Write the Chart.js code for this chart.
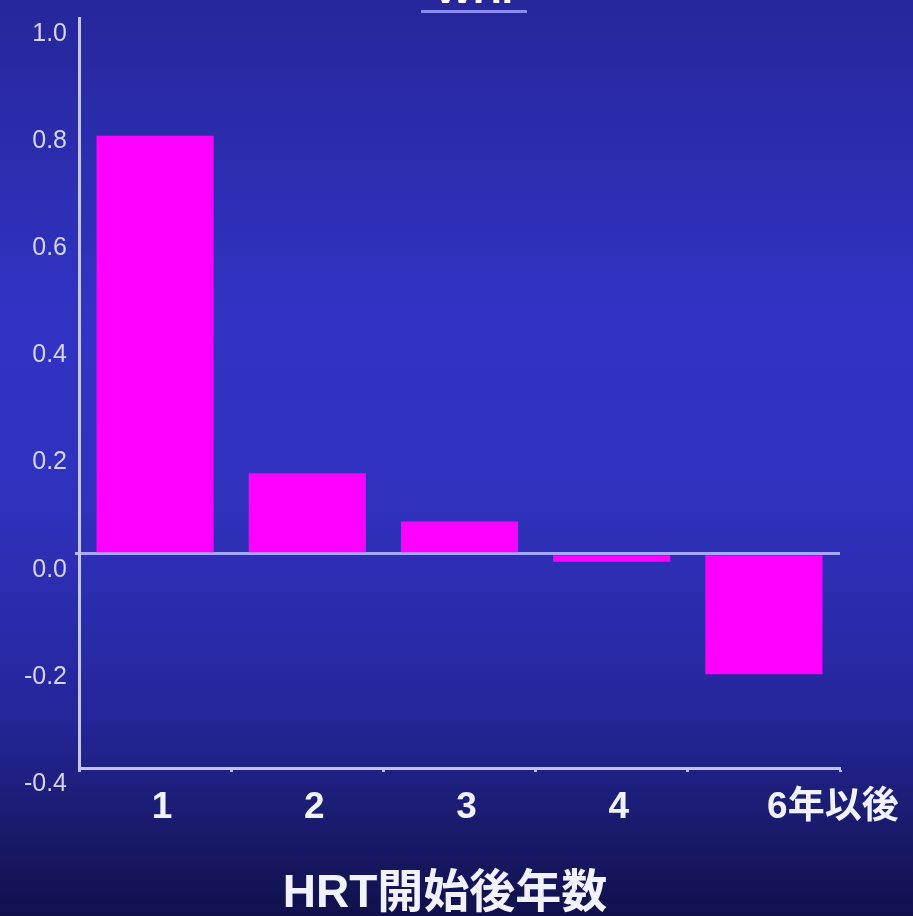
<!DOCTYPE html>
<html>
<head>
<meta charset="utf-8">
<style>
  html, body { margin: 0; padding: 0; background: #2a2aa8; }
  #wrap { width: 913px; height: 916px; position: relative; }
</style>
<script src="https://cdn.jsdelivr.net/npm/chart.js@4/dist/chart.umd.min.js"></script>
</head>
<body>
<div id="wrap"><canvas id="c" width="913" height="916"></canvas></div>
<script>
// Years since start of HRT and the plotted effect for each period
const categories = ['1', '2', '3', '4', '6年以後'];
const values = [0.78, 0.15, 0.06, -0.015, -0.225];
const yTicks = [-0.4, -0.2, 0.0, 0.2, 0.4, 0.6, 0.8, 1.0];
const xTitle = 'HRT開始後年数';
const chartTitle = 'WHI';

const LATIN = '"Liberation Sans", Arial, "Noto Sans CJK JP", sans-serif';

// Slide background: blue vertical gradient, brightest in the middle
const backdrop = {
  id: 'backdrop',
  beforeDraw(chart) {
    const { ctx, width, height } = chart;
    const g = ctx.createLinearGradient(0, 0, 0, height);
    g.addColorStop(0.00, '#26279a');
    g.addColorStop(0.35, '#3233c4');
    g.addColorStop(0.55, '#3031bd');
    g.addColorStop(0.78, '#25269a');
    g.addColorStop(0.92, '#181966');
    g.addColorStop(1.00, '#10104c');
    ctx.save();
    ctx.fillStyle = g;
    ctx.fillRect(0, 0, width, height);
    ctx.restore();
  }
};

// Category labels, the axis title and the (partly off-canvas) slide heading
const labelsAndTitles = {
  id: 'labelsAndTitles',
  afterDraw(chart) {
    const { ctx } = chart;
    const x = chart.scales.x;
    const yBase = chart.chartArea.bottom;
    ctx.save();
    ctx.fillStyle = '#f2f2ff';
    ctx.textAlign = 'center';
    ctx.textBaseline = 'middle';
    ctx.font = 'bold 37px ' + LATIN;
    categories.forEach((lab, i) => {
      const shift = i === categories.length - 1 ? 69 : 7;
      ctx.fillText(lab, x.getPixelForValue(i) + shift, yBase + 40);
    });
    ctx.font = 'bold 46px ' + LATIN;
    ctx.fillText(xTitle, 445, yBase + 126);

    // heading, mostly above the top edge
    ctx.font = 'bold 40px ' + LATIN;
    ctx.textBaseline = 'alphabetic';
    ctx.fillStyle = '#ffffff';
    ctx.fillText(chartTitle, 474, 3);
    ctx.fillStyle = '#8a8af0';
    ctx.fillRect(421, 10, 106, 3);
    ctx.restore();
  }
};

new Chart(document.getElementById('c'), {
  type: 'bar',
  data: {
    labels: categories,
    datasets: [{
      data: values,
      backgroundColor: '#ff00ff',
      borderWidth: 0,
      categoryPercentage: 1.0,
      barPercentage: 0.77
    }]
  },
  options: {
    responsive: false,
    animation: false,
    events: [],
    layout: { padding: { top: 18, right: 73, left: 0, bottom: 0 } },
    plugins: {
      legend: { display: false },
      tooltip: { enabled: false },
      title: { display: false }
    },
    scales: {
      x: {
        offset: true,
        ticks: { display: false },
        grid: {
          display: true,
          drawOnChartArea: false,
          drawTicks: true,
          tickLength: 4,
          tickColor: '#b8b8f0',
          tickWidth: 3,
          offset: true
        },
        border: { display: true, color: '#c4c4f4', width: 3 },
        afterFit(scale) { scale.height = 148; }
      },
      y: {
        min: -0.4,
        max: 1.0,
        afterBuildTicks(scale) {
          scale.ticks = yTicks.map(v => ({ value: v }));
        },
        ticks: {
          color: '#d4d4f6',
          font: { family: LATIN, size: 25 },
          padding: 8,
          labelOffset: 16,
          callback: v => Number(v).toFixed(1)
        },
        grid: {
          drawOnChartArea: true,
          drawTicks: true,
          tickLength: 4,
          tickColor: '#b8b8f0',
          color: ctx => (ctx.tick && ctx.tick.value === 0 ? '#a4a8ff' : 'rgba(0,0,0,0)'),
          lineWidth: ctx => (ctx.tick && ctx.tick.value === 0 ? 3 : 0)
        },
        border: { display: true, color: '#c4c4f4', width: 3 },
        afterFit(scale) {
          scale.width = 79;
          scale.paddingTop = 0;
          scale.paddingBottom = 0;
        }
      }
    }
  },
  plugins: [backdrop, labelsAndTitles]
});
</script>
</body>
</html>
